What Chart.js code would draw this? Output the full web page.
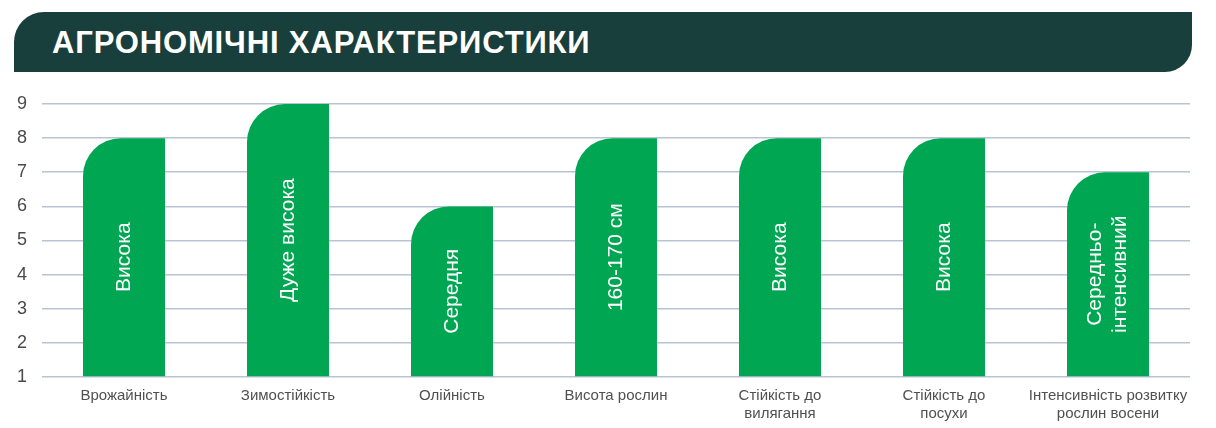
<!DOCTYPE html>
<html>
<head>
<meta charset="utf-8">
<script src="https://cdn.jsdelivr.net/npm/chart.js@4"></script>
<style>
  html, body { margin: 0; padding: 0; background: #fff; }
  body { width: 1216px; height: 428px; position: relative; overflow: hidden; font-family: "Liberation Sans", Arial, sans-serif; }
  .header {
    position: absolute; left: 14px; top: 12px; width: 1178px; height: 60px;
    background: #183f3b; border-radius: 30px 0 27px 0;
    color: #fff; font-weight: bold; font-size: 31px; line-height: 62px;
    padding-left: 38px; box-sizing: border-box; letter-spacing: 0.85px;
  }
  #wrap { position: absolute; left: 0; top: 0; width: 1216px; height: 428px; }
</style>
</head>
<body>
<div id="wrap"><canvas id="chart"></canvas></div>
<div class="header">АГРОНОМІЧНІ ХАРАКТЕРИСТИКИ</div>
<script>
// categories (x axis), multi-line where the picture wraps them
const categories = [
  "Врожайність",
  "Зимостійкість",
  "Олійність",
  "Висота рослин",
  ["Стійкість до", "вилягання"],
  ["Стійкість до", "посухи"],
  ["Інтенсивність розвитку", "рослин восени"]
];
const scores = [8, 9, 6, 8, 8, 8, 7];
const barTexts = [
  ["Висока"],
  ["Дуже висока"],
  ["Середня"],
  ["160-170 см"],
  ["Висока"],
  ["Висока"],
  ["Середньо-", "інтенсивний"]
];
const yMin = 1;
const yMax = 9;

const font = '"Liberation Sans", Arial, sans-serif';

// white rotated text inside each bar
const barLabels = {
  id: "barLabels",
  afterDatasetsDraw(chart) {
    const ctx = chart.ctx;
    const meta = chart.getDatasetMeta(0);
    ctx.save();
    ctx.fillStyle = "#ffffff";
    ctx.font = "21px " + font;
    ctx.textAlign = "center";
    ctx.textBaseline = "middle";
    meta.data.forEach((bar, i) => {
      const lines = barTexts[i];
      const base = Math.min(bar.base, chart.chartArea.bottom);
      const cy = (bar.y + base) / 2;
      const lh = 25;
      ctx.save();
      ctx.translate(bar.x, cy);
      ctx.rotate(-Math.PI / 2);
      lines.forEach((t, j) => {
        const off = (j - (lines.length - 1) / 2) * lh;
        ctx.fillText(t, 0, off);
      });
      ctx.restore();
    });
    ctx.restore();
  }
};

new Chart(document.getElementById("chart"), {
  type: "bar",
  data: {
    labels: categories,
    datasets: [{
      data: scores,
      base: yMin,
      backgroundColor: "#00a651",
      borderWidth: 0,
      borderRadius: { topLeft: 38, topRight: 0, bottomLeft: 0, bottomRight: 0 },
      borderSkipped: false,
      barPercentage: 0.5,
      categoryPercentage: 1.0
    }]
  },
  options: {
    responsive: true,
    maintainAspectRatio: false,
    animation: false,
    layout: { padding: { top: 104, right: 26, left: 0, bottom: 0 } },
    plugins: {
      legend: { display: false },
      tooltip: { enabled: false },
      title: { display: false }
    },
    scales: {
      x: {
        grid: { display: false, drawTicks: false },
        border: { display: false },
        ticks: {
          color: "#505050",
          font: { family: font, size: 15 },
          padding: 10,
          maxRotation: 0,
          autoSkip: false
        },
        afterFit(scale) { scale.height = 51; }
      },
      y: {
        min: yMin,
        max: yMax,
        grid: { color: "#b9c3d3", lineWidth: 1.6, drawTicks: false },
        border: { display: false },
        ticks: {
          stepSize: 1,
          color: "#4a4a4a",
          font: { family: font, size: 18 },
          padding: 15
        },
        afterFit(scale) { scale.width = 42; }
      }
    }
  },
  plugins: [barLabels]
});
</script>
</body>
</html>
